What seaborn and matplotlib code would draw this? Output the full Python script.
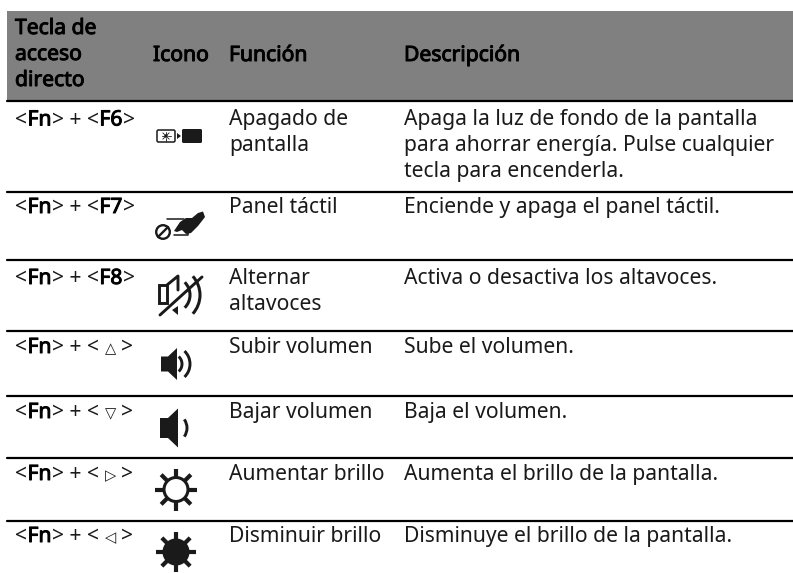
import numpy as np
import matplotlib
matplotlib.use('Agg')
import matplotlib.pyplot as plt
import matplotlib.patheffects as pe
from matplotlib.patches import Circle, Polygon, Rectangle, Arc, FancyBboxPatch
import seaborn as sns

HEADERS = [['Tecla de', 'acceso', 'directo'], ['Icono'], ['Función'], ['Descripción']]
TECLAS = ['F6', 'F7', 'F8', '△', '▽', '▷', '◁']
FUNCIONES = [['Apagado de', 'pantalla'], ['Panel táctil'], ['Alternar', 'altavoces'], ['Subir volumen'],
             ['Bajar volumen'], ['Aumentar brillo'], ['Disminuir brillo']]
DESCRIPCIONES = [['Apaga la luz de fondo de la pantalla', 'para ahorrar energía. Pulse cualquier',
                  'tecla para encenderla.'],
                 ['Enciende y apaga el panel táctil.'], ['Activa o desactiva los altavoces.'],
                 ['Sube el volumen.'], ['Baja el volumen.'], ['Aumenta el brillo de la pantalla.'],
                 ['Disminuye el brillo de la pantalla.']]
ROW_EDGES = [101, 192, 260, 331, 396, 458, 521]
BASELINES = [125.5, 213, 284, 353, 418, 480, 542]
COL_X = [15, 153, 229, 404]

sns.set_theme(style='white')
plt.rcParams['font.family'] = ['Noto Sans', 'DejaVu Sans']
BODY = 15.2
LINE = 26
INK = '#1a1a1a'
FAUX_BOLD = [pe.withStroke(linewidth=0.7, foreground='black')]

fig = plt.figure(figsize=(7.93, 5.73), dpi=100)
ax = fig.add_axes([0, 0, 1, 1])
ax.set_xlim(0, 793)
ax.set_ylim(573, 0)
ax.axis('off')


def lines(x, y, rows, bold=False):
    for n, s in enumerate(rows):
        t = ax.text(x, y + n * LINE, s, fontsize=BODY, va='baseline', color='black' if bold else INK)
        if bold:
            t.set_path_effects(FAUX_BOLD)


def sequence(x, y, parts):
    # writes text pieces one after the other, bold or not
    r = fig.canvas.get_renderer()
    for s, bold in parts:
        t = ax.text(x, y, s, fontsize=BODY, va='baseline', color='black' if bold else INK)
        if bold:
            t.set_path_effects(FAUX_BOLD)
        x = t.get_window_extent(r).x1 + 0.5
    return x


def speaker(cy, x0, x1, x2, body, cone, arcs):
    ax.add_patch(Polygon([(x0, cy - body), (x1, cy - body), (x2, cy - cone), (x2, cy + cone),
                          (x1, cy + body), (x0, cy + body)], color=INK, lw=0))
    for r, a in arcs:
        ax.add_patch(Arc((172, cy), 2 * r, 2 * r, theta1=-a, theta2=a, color=INK, lw=2.1))


def sun(cx, cy, filled, r_body, r_ray):
    for a in np.arange(0, 360, 45):
        ca, sa = np.cos(np.radians(a)), np.sin(np.radians(a))
        ax.plot([cx + (r_body - 1) * ca, cx + r_ray * ca], [cy + (r_body - 1) * sa, cy + r_ray * sa],
                color=INK, lw=3, solid_capstyle='butt')
    ax.add_patch(Circle((cx, cy), r_body - 1, fc=INK if filled else 'white', ec=INK, lw=2.2))


def icon_screen():
    ax.add_patch(FancyBboxPatch((157, 130), 18, 12, boxstyle='round,pad=0,rounding_size=1.5',
                                fc='white', ec=INK, lw=1.1))
    for a in np.arange(0, 360, 45):
        ca, sa = np.cos(np.radians(a)), np.sin(np.radians(a))
        ax.plot([166 + 2 * ca, 166 + 4.5 * ca], [136 + 2 * sa, 136 + 4.5 * sa], color=INK, lw=0.6)
    ax.add_patch(Circle((166, 136), 1.8, color=INK, lw=0))
    ax.add_patch(Polygon([(177, 133), (181, 136), (177, 139)], color=INK, lw=0))
    ax.add_patch(FancyBboxPatch((182, 129), 20, 14, boxstyle='round,pad=0,rounding_size=1.5', color=INK, lw=0))


def icon_touchpad():
    ax.plot([167, 184], [218.5, 218.5], color=INK, lw=1.1)
    ax.plot([174, 188, 188], [235, 235, 229], color=INK, lw=1.1)
    ax.add_patch(Circle((163, 232), 6.8, fc='white', ec=INK, lw=1.7))
    ax.plot([158, 168], [237, 227], color=INK, lw=1.7)
    ax.add_patch(Polygon([(174, 231), (180, 222), (186, 218), (192, 218), (198, 213), (203, 211.5),
                          (205, 217), (198, 226), (191, 233), (186, 234), (182, 230), (177, 232)],
                         color=INK, lw=0))


def icon_mute():
    ax.add_patch(Rectangle((158.5, 285), 8, 18, fc='white', ec=INK, lw=2.1))
    ax.plot([167, 178, 178], [285, 276, 290], color=INK, lw=2.1)
    ax.add_patch(Polygon([(178, 306), (178, 315), (172, 310)], color=INK, lw=0))
    ax.add_patch(Arc((172, 295), 36, 36, theta1=-45, theta2=45, color=INK, lw=2.2))
    ax.add_patch(Arc((172, 295), 56, 56, theta1=-42, theta2=42, color=INK, lw=2.2))
    ax.plot([160, 202], [315, 277], color=INK, lw=2.1)


ax.axhspan(11, 100, xmin=7 / 793, color='#808080', lw=0)
for e in ROW_EDGES:
    sns.lineplot(x=[7, 793], y=[e, e], color='black', linewidth=1.6, ax=ax, legend=False)

# header
lines(COL_X[0], 34, HEADERS[0], bold=True)
for x, h in zip(COL_X[1:], HEADERS[1:]):
    lines(x, 61, h, bold=True)

for i, (k, f, d) in enumerate(zip(TECLAS, FUNCIONES, DESCRIPCIONES)):
    y = BASELINES[i]
    if i < 3:
        sequence(COL_X[0], y, [('<', False), ('Fn', True), ('> + <', False), (k, True), ('>', False)])
    else:
        sequence(COL_X[0], y, [('<', False), ('Fn', True), ('> + <', False)])
        ax.text(111, y - 4, k, fontsize=10.5, va='center', ha='center', color=INK, family='DejaVu Sans')
        ax.text(121.5, y, '>', fontsize=BODY, va='baseline', color=INK)
    lines(COL_X[2], y, f)
    lines(COL_X[3], y, d)

icon_screen()
icon_touchpad()
icon_mute()
speaker(364, 161, 168, 177, 7.5, 16, [(10, 48), (18, 46)])
speaker(428, 160, 168, 178, 10, 19.5, [(15, 35)])
sun(176, 489.5, False, 13, 21)
sun(176, 552, True, 13, 20)

fig.savefig('out.png', dpi=100)
